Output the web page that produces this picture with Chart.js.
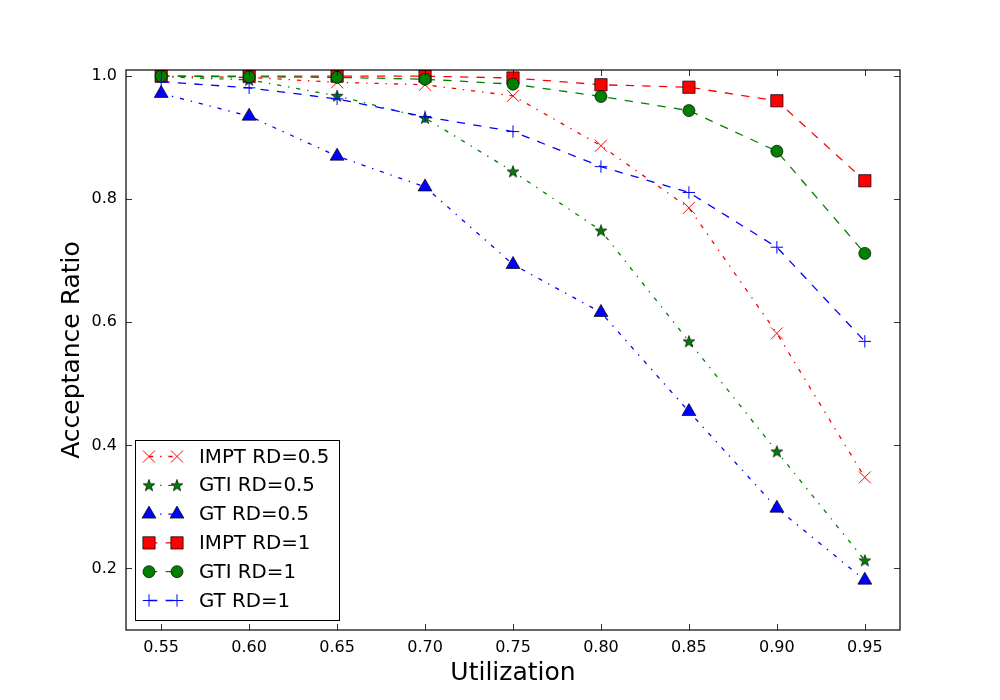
<!DOCTYPE html>
<html>
<head>
<meta charset="utf-8">
<script src="https://cdn.jsdelivr.net/npm/chart.js@4/dist/chart.umd.min.js"></script>
<style>
  html, body { margin: 0; padding: 0; background: #ffffff; }
  #wrap { width: 1000px; height: 700px; position: relative; }
</style>
</head>
<body>
<div id="wrap"><canvas id="c" width="1000" height="700"></canvas></div>
<script>
// ---- data ----
const utilization = [0.55, 0.60, 0.65, 0.70, 0.75, 0.80, 0.85, 0.90, 0.95];
const imptRD05 = [1.000, 0.998, 0.990, 0.986, 0.968, 0.887, 0.786, 0.582, 0.348];
const gtiRD05  = [0.999, 0.994, 0.968, 0.932, 0.845, 0.749, 0.569, 0.390, 0.213];
const gtRD05   = [0.972, 0.935, 0.870, 0.820, 0.694, 0.616, 0.455, 0.298, 0.181];
const imptRD1  = [1.000, 1.000, 1.000, 1.000, 0.997, 0.986, 0.982, 0.960, 0.830];
const gtiRD1   = [1.000, 0.999, 0.998, 0.995, 0.987, 0.967, 0.944, 0.878, 0.712];
const gtRD1    = [0.991, 0.981, 0.963, 0.934, 0.910, 0.853, 0.811, 0.722, 0.569];
const seriesNames = ['IMPT RD=0.5', 'GTI RD=0.5', 'GT RD=0.5', 'IMPT RD=1', 'GTI RD=1', 'GT RD=1'];
const xTicks = [0.55, 0.60, 0.65, 0.70, 0.75, 0.80, 0.85, 0.90, 0.95];
const yTicks = [0.2, 0.4, 0.6, 0.8, 1.0];

// ---- styles ----
const RED = '#ff0000', GREEN = '#008000', BLUE = '#0000ff';
const DASHED = [8.3, 8.3];
const DASHDOT = [4.2, 6.9, 1.4, 6.9];

function makeStar(fill) {
  const c = document.createElement('canvas');
  c.width = 14; c.height = 14;
  const g = c.getContext('2d');
  const cx = 7, cy = 7.4, R = 6.2, r = 2.5;
  g.beginPath();
  for (let i = 0; i < 10; i++) {
    const ang = -Math.PI / 2 + i * Math.PI / 5;
    const rad = (i % 2 === 0) ? R : r;
    const px = cx + rad * Math.cos(ang), py = cy + rad * Math.sin(ang);
    if (i === 0) g.moveTo(px, py); else g.lineTo(px, py);
  }
  g.closePath();
  g.fillStyle = fill; g.fill();
  g.lineWidth = 0.7; g.strokeStyle = '#000'; g.stroke();
  return c;
}
const starImg = makeStar(GREEN);

function pts(arr) { return utilization.map((x, i) => ({x: x, y: arr[i]})); }

const styleDefs = [
  {data: imptRD05, color: RED,   dash: DASHDOT, pointStyle: 'crossRot', radius: 8.5, pbColor: RED,   pbWidth: 1.0, pFill: RED},
  {data: gtiRD05,  color: GREEN, dash: DASHDOT, pointStyle: starImg,    radius: 6,   pbColor: '#000', pbWidth: 0.7, pFill: GREEN},
  {data: gtRD05,   color: BLUE,  dash: DASHDOT, pointStyle: 'triangle', radius: 8,   pbColor: '#000', pbWidth: 0.7, pFill: BLUE},
  {data: imptRD1,  color: RED,   dash: DASHED,  pointStyle: 'rect',     radius: 8.7, pbColor: '#000', pbWidth: 0.7, pFill: RED},
  {data: gtiRD1,   color: GREEN, dash: DASHED,  pointStyle: 'circle',   radius: 6,   pbColor: '#000', pbWidth: 0.7, pFill: GREEN},
  {data: gtRD1,    color: BLUE,  dash: DASHED,  pointStyle: 'cross',    radius: 6.2, pbColor: BLUE,  pbWidth: 1.0, pFill: BLUE}
];

const datasets = styleDefs.map((s, i) => ({
  label: seriesNames[i],
  data: pts(s.data),
  borderColor: s.color,
  borderWidth: 1.3,
  borderDash: s.dash,
  backgroundColor: s.pFill,
  pointStyle: s.pointStyle,
  pointRadius: s.radius,
  pointHoverRadius: s.radius,
  pointBackgroundColor: s.pFill,
  pointBorderColor: s.pbColor,
  pointBorderWidth: s.pbWidth,
  tension: 0,
  fill: false,
  clip: 0,
  order: -i
}));

const FONT = 'DejaVu Sans';

const framePlugin = {
  id: 'frameAndLegend',
  afterDraw(chart) {
    const ctx = chart.ctx;
    const a = chart.chartArea;
    const xs = chart.scales.x, ys = chart.scales.y;
    ctx.save();
    // frame
    ctx.strokeStyle = '#000';
    ctx.lineWidth = 1.2;
    ctx.setLineDash([]);
    ctx.strokeRect(a.left, a.top, a.right - a.left, a.bottom - a.top);
    // inward ticks
    ctx.lineWidth = 0.8;
    const TL = 6;
    ctx.beginPath();
    xTicks.forEach(v => {
      const px = Math.round(xs.getPixelForValue(v)) + 0.5;
      ctx.moveTo(px, a.bottom); ctx.lineTo(px, a.bottom - TL);
      ctx.moveTo(px, a.top); ctx.lineTo(px, a.top + TL);
    });
    yTicks.forEach(v => {
      const py = Math.round(ys.getPixelForValue(v)) + 0.5;
      ctx.moveTo(a.left, py); ctx.lineTo(a.left + TL, py);
      ctx.moveTo(a.right, py); ctx.lineTo(a.right - TL, py);
    });
    ctx.stroke();

    // legend
    const bx = 135.5, by = 440.5, bw = 204, bh = 180;
    ctx.fillStyle = '#fff';
    ctx.fillRect(bx, by, bw, bh);
    ctx.strokeStyle = '#000';
    ctx.lineWidth = 1;
    ctx.strokeRect(bx, by, bw, bh);
    const rowY0 = 456.5, rowStep = 28.8;
    const mx1 = 149, mx2 = 177, tx = 199;
    chart.data.datasets.forEach((ds, i) => {
      const y = rowY0 + i * rowStep;
      ctx.save();
      ctx.beginPath();
      ctx.setLineDash(ds.borderDash);
      ctx.strokeStyle = ds.borderColor;
      ctx.lineWidth = ds.borderWidth;
      ctx.moveTo(mx1, y); ctx.lineTo(mx2, y);
      ctx.stroke();
      ctx.setLineDash([]);
      [mx1, mx2].forEach(mx => {
        ctx.fillStyle = ds.pointBackgroundColor;
        ctx.strokeStyle = ds.pointBorderColor;
        ctx.lineWidth = ds.pointBorderWidth;
        Chart.helpers.drawPoint(ctx, {
          pointStyle: ds.pointStyle, radius: ds.pointRadius,
          borderWidth: ds.pointBorderWidth, rotation: 0
        }, mx, y);
      });
      ctx.restore();
      ctx.fillStyle = '#000';
      ctx.font = '19.8px "' + FONT + '"';
      ctx.textBaseline = 'middle';
      ctx.textAlign = 'left';
      ctx.fillText(ds.label, tx, y + 1);
    });
    ctx.restore();
  }
};

new Chart(document.getElementById('c'), {
  type: 'line',
  data: { datasets: datasets },
  plugins: [framePlugin],
  options: {
    responsive: false,
    animation: false,
    devicePixelRatio: 1,
    layout: { padding: { top: 70, right: 100, left: 0, bottom: 0 } },
    plugins: { legend: { display: false }, tooltip: { enabled: false } },
    scales: {
      x: {
        type: 'linear',
        min: 0.53, max: 0.97,
        afterFit(scale) { scale.height = 70; },
        afterBuildTicks(scale) { scale.ticks = xTicks.map(v => ({value: v})); },
        grid: { display: false, drawTicks: false },
        border: { display: false },
        ticks: {
          padding: 8,
          color: '#000',
          font: { family: FONT, size: 16 },
          maxRotation: 0,
          autoSkip: false,
          callback: v => Number(v).toFixed(2)
        },
        title: {
          display: true, text: 'Utilization', color: '#000',
          font: { family: FONT, size: 25 },
          padding: { top: 0, bottom: 12 }
        }
      },
      y: {
        type: 'linear',
        min: 0.1, max: 1.01,
        afterFit(scale) { scale.width = 126; },
        afterBuildTicks(scale) { scale.ticks = yTicks.map(v => ({value: v})); },
        grid: { display: false, drawTicks: false },
        border: { display: false },
        ticks: {
          padding: 9,
          color: '#000',
          font: { family: FONT, size: 16 },
          autoSkip: false,
          callback: v => Number(v).toFixed(1)
        },
        title: {
          display: true, text: 'Acceptance Ratio', color: '#000',
          font: { family: FONT, size: 25 },
          padding: { top: 57, bottom: 0 }
        }
      }
    }
  }
});
</script>
</body>
</html>
